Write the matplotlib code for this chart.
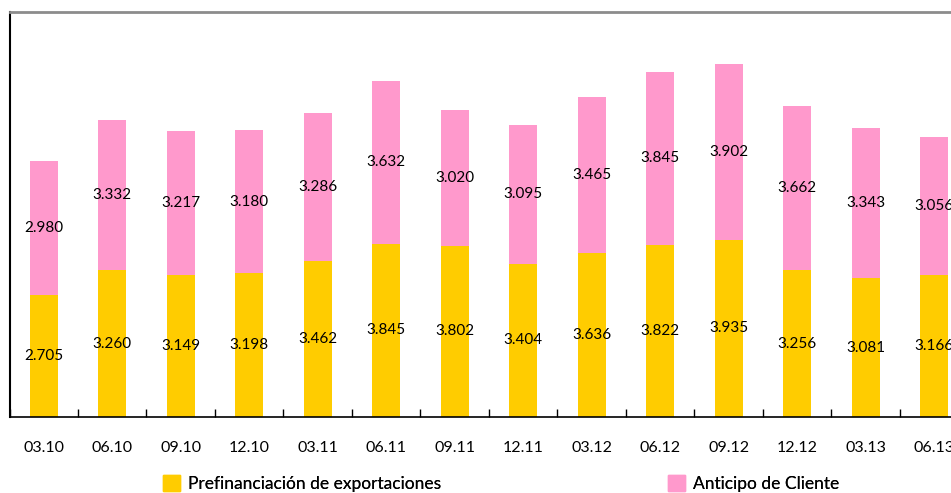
import matplotlib
matplotlib.use("Agg")
import matplotlib.pyplot as plt
import numpy as np
from matplotlib.patches import Patch

categories = ["03.10", "06.10", "09.10", "12.10", "03.11", "06.11", "09.11",
              "12.11", "03.12", "06.12", "09.12", "12.12", "03.13", "06.13"]
prefinanciacion = [2705, 3260, 3149, 3198, 3462, 3845, 3802,
                   3404, 3636, 3822, 3935, 3256, 3081, 3166]
anticipo = [2980, 3332, 3217, 3180, 3286, 3632, 3020,
            3095, 3465, 3845, 3902, 3662, 3343, 3056]

YELLOW = "#FFCC00"
PINK = "#FF99CC"
FONT = "Lato"

W, H = 951, 493
fig = plt.figure(figsize=(W / 100, H / 100), dpi=100)
left_px, right_px, top_px, bottom_px = 9.5, 968.5, 12, 417
ax = fig.add_axes([left_px / W, 1 - bottom_px / H,
                   (right_px - left_px) / W, (bottom_px - top_px) / H])

x = np.arange(len(categories))
pre = np.array(prefinanciacion)
ant = np.array(anticipo)
width = 0.41
ax.bar(x, pre, width, color=YELLOW, label="Prefinanciación de exportaciones")
ax.bar(x, ant, width, bottom=pre, color=PINK, label="Anticipo de Cliente")

def fmt(v):
    return f"{v:,}".replace(",", ".")

for xi, p, a in zip(x, pre, ant):
    ax.text(xi, p / 2, fmt(p), ha="center", va="center", fontsize=11,
            family=FONT, color="black")
    ax.text(xi, p + a / 2, fmt(a), ha="center", va="center", fontsize=11,
            family=FONT, color="black")

ax.set_xlim(-0.5, len(categories) - 0.5)
ax.set_ylim(0, 9000)
ax.set_yticks([])
ax.set_xticks(x)
ax.set_xticklabels(categories, family=FONT, fontsize=11.5)
ax.tick_params(axis="x", which="major", length=0, pad=17)
ax.set_xticks(np.arange(-0.5, len(categories), 1.0), minor=True)
ax.tick_params(axis="x", which="minor", direction="in", length=6, width=1,
               color="black")

ax.spines["left"].set_color("black")
ax.spines["left"].set_linewidth(1.5)
ax.spines["bottom"].set_color("black")
ax.spines["bottom"].set_linewidth(1.2)
ax.spines["top"].set_color("#8c8c8c")
ax.spines["top"].set_linewidth(2)
ax.spines["right"].set_visible(False)

handles = [Patch(color=YELLOW), Patch(color=PINK)]
labels = ["Prefinanciación de exportaciones", "Anticipo de Cliente"]
ly = 1 - 483.5 / H
for h, l, lx in zip(handles, labels, [163, 668]):
    leg = fig.legend([h], [l], loc="center left", bbox_to_anchor=(lx / W, ly),
                     frameon=False, borderpad=0, borderaxespad=0,
                     handlelength=1.0, handleheight=1.0, handletextpad=0.42,
                     prop={"family": FONT, "size": 12.5})
    fig.add_artist(leg)

fig.savefig("out.png", dpi=100)
